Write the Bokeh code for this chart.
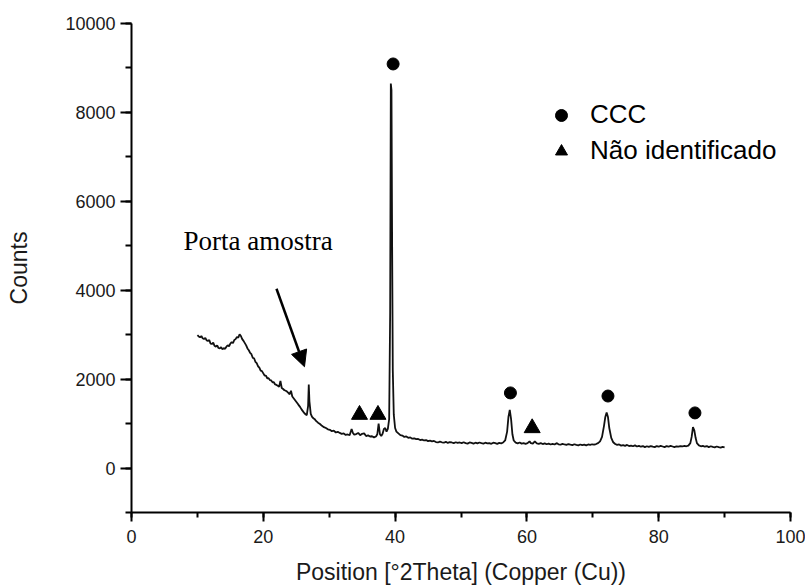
from bokeh.plotting import figure
from bokeh.models import (Range1d, SingleIntervalTicker, Legend, LegendItem,
                          Label, Arrow, NormalHead)
from bokeh.embed import file_html
from bokeh.resources import INLINE

# ---------------- data ----------------
two_theta = [
    10.0, 10.2, 10.4, 10.6, 10.8, 11.0, 11.2, 11.4, 11.6, 11.8,
    12.0, 12.2, 12.4, 12.6, 12.8, 13.0, 13.2, 13.4, 13.6, 13.8,
    14.0, 14.2, 14.4, 14.6, 14.8, 15.0, 15.2, 15.4, 15.6, 15.8,
    16.0, 16.2, 16.4, 16.6, 16.8, 17.0, 17.2, 17.4, 17.6, 17.8,
    18.0, 18.2, 18.4, 18.6, 18.8, 19.0, 19.2, 19.4, 19.6, 19.8,
    20.0, 20.2, 20.4, 20.6, 20.8, 21.0, 21.2, 21.4, 21.6, 21.8,
    22.0, 22.2, 22.4, 22.6, 22.8, 23.0, 23.2, 23.4, 23.6, 23.8,
    24.0, 24.2, 24.4, 24.6, 24.8, 25.0, 25.2, 25.4, 25.6, 25.8,
    26.0, 26.2, 26.4, 26.6, 26.8, 26.9, 27.0, 27.2, 27.4, 27.6,
    27.8, 28.0, 28.3, 28.6, 28.9, 29.2, 29.5, 29.8, 30.1, 30.4,
    30.7, 31.0, 31.3, 31.6, 31.9, 32.2, 32.5, 32.8, 33.1, 33.4,
    33.6, 33.8, 34.1, 34.4, 34.7, 35.0, 35.3, 35.6, 35.9, 36.2,
    36.5, 36.8, 37.1, 37.3, 37.5, 37.7, 37.9, 38.1, 38.3, 38.5,
    38.7, 38.9, 39.1, 39.25, 39.35, 39.45, 39.55, 39.65, 39.8, 40.0,
    40.2, 40.5, 40.8, 41.1, 41.4, 41.7, 42.0, 42.3, 42.6, 42.9,
    43.2, 43.5, 43.8, 44.1, 44.4, 44.7, 45.0, 45.3, 45.6, 45.9,
    46.2, 46.5, 46.8, 47.1, 47.4, 47.7, 48.0, 48.3, 48.6, 48.9,
    49.2, 49.5, 49.8, 50.1, 50.4, 50.7, 51.0, 51.3, 51.6, 51.9,
    52.2, 52.5, 52.8, 53.1, 53.4, 53.7, 54.0, 54.3, 54.6, 54.9,
    55.2, 55.5, 55.8, 56.1, 56.4, 56.7, 57.0, 57.2, 57.4, 57.6,
    57.8, 58.0, 58.3, 58.6, 58.9, 59.2, 59.5, 59.8, 60.1, 60.4,
    60.6, 60.9, 61.2, 61.5, 61.8, 62.1, 62.4, 62.7, 63.0, 63.3,
    63.6, 63.9, 64.2, 64.5, 64.8, 65.1, 65.4, 65.7, 66.0, 66.3,
    66.6, 66.9, 67.2, 67.5, 67.8, 68.1, 68.4, 68.7, 69.0, 69.3,
    69.6, 69.9, 70.2, 70.5, 70.8, 71.1, 71.4, 71.7, 71.9, 72.1,
    72.3, 72.5, 72.8, 73.1, 73.4, 73.7, 74.0, 74.3, 74.6, 74.9,
    75.2, 75.5, 75.8, 76.1, 76.4, 76.7, 77.0, 77.3, 77.6, 77.9,
    78.2, 78.5, 78.8, 79.1, 79.4, 79.7, 80.0, 80.3, 80.6, 80.9,
    81.2, 81.5, 81.8, 82.1, 82.4, 82.7, 83.0, 83.3, 83.6, 83.9,
    84.2, 84.5, 84.8, 85.0, 85.2, 85.4, 85.6, 85.8, 86.1, 86.4,
    86.7, 87.0, 87.3, 87.6, 87.9, 88.2, 88.5, 88.8, 89.1, 89.4,
    89.7, 90.0,
]
counts = [
    2990, 2960, 2940, 2970, 2920, 2900, 2930, 2870, 2860, 2880,
    2800, 2790, 2820, 2750, 2730, 2760, 2700, 2690, 2720, 2670,
    2700, 2680, 2730, 2760, 2740, 2800, 2830, 2810, 2880, 2900,
    2950, 2930, 3010, 2970, 2900, 2860, 2810, 2760, 2690, 2650,
    2590, 2560, 2480, 2470, 2390, 2360, 2290, 2260, 2190, 2180,
    2130, 2080, 2080, 2020, 2020, 1980, 1970, 1930, 1930, 1880,
    1870, 1850, 1830, 1960, 1800, 1780, 1750, 1740, 1720, 1690,
    1660, 1740, 1610, 1570, 1530, 1490, 1450, 1410, 1370, 1320,
    1280, 1240, 1210, 1190, 1400, 1880, 1500, 1220, 1150, 1120,
    1100, 1060, 1020, 990, 950, 920, 900, 870, 860, 830,
    840, 800, 815, 790, 770, 780, 745, 755, 740, 880,
    790, 750, 765, 790, 740, 770, 780, 720, 735, 710,
    715, 690, 710, 760, 1000, 760, 720, 770, 880, 900,
    820, 880, 1100, 3500, 8650, 8500, 5000, 2200, 1200, 900,
    820, 780, 740, 730, 700, 710, 680, 690, 660, 670,
    650, 655, 630, 640, 620, 630, 605, 615, 600, 610,
    585, 575, 595, 580, 570, 590, 565, 585, 575, 560,
    580, 565, 575, 560, 580, 560, 550, 575, 565, 550,
    570, 555, 575, 560, 550, 570, 555, 560, 545, 570,
    560, 545, 565, 555, 575, 620, 820, 1150, 1310, 1100,
    760, 620, 570, 555, 575, 550, 560, 545, 560, 600,
    560, 550, 600, 555, 545, 560, 540, 555, 535, 550,
    530, 545, 530, 560, 535, 525, 545, 530, 520, 540,
    525, 515, 535, 520, 510, 530, 515, 525, 510, 530,
    520, 535, 525, 540, 560, 600, 700, 950, 1150, 1250,
    1150, 900, 680, 580, 540, 520, 530, 505, 515, 500,
    520, 495, 505, 490, 510, 485, 500, 480, 495, 470,
    490, 475, 495, 480, 470, 495, 480, 500, 485, 470,
    495, 480, 500, 485, 470, 490, 480, 495, 485, 500,
    490, 505, 560, 700, 920, 850, 680, 560, 510, 490,
    500, 480, 495, 470, 490, 475, 465, 485, 470, 460,
    475, 465,
]
assert len(two_theta) == len(counts)

# peak identification markers
ccc_theta = [39.7, 57.5, 72.3, 85.5]
ccc_counts = [9090, 1690, 1620, 1240]
unid_theta = [34.6, 37.4, 60.8]
unid_counts = [1200, 1200, 900]

series_labels = ["CCC", "Não identificado"]
x_title = "Position [°2Theta] (Copper (Cu))"
y_title = "Counts"
note_text = "Porta amostra"

# ---------------- figure ----------------
p = figure(width=805, height=587, output_backend="svg", toolbar_location=None,
           x_range=Range1d(0, 100), y_range=Range1d(-1000, 10000),
           min_border_left=131, min_border_right=15, min_border_top=23,
           min_border_bottom=74)
p.outline_line_color = None
p.xgrid.visible = False
p.ygrid.visible = False
p.background_fill_color = "white"
p.border_fill_color = "white"

p.line(two_theta, counts, line_color="#111111", line_width=1.8)

r_ccc = p.scatter(ccc_theta, ccc_counts, marker="circle", size=12,
                  fill_color="black", line_color="black")
r_unid = p.scatter(unid_theta, unid_counts, marker="triangle", size=16,
                   fill_color="black", line_color="black")

# axes
font = "Liberation Sans"
p.xaxis.ticker = SingleIntervalTicker(interval=20, num_minor_ticks=2)
p.yaxis.ticker = SingleIntervalTicker(interval=2000, num_minor_ticks=2)
p.xaxis.axis_label = x_title
p.yaxis.axis_label = y_title
for ax in (p.xaxis, p.yaxis):
    ax.axis_line_width = 2
    ax.axis_line_color = "black"
    ax.major_tick_line_width = 2
    ax.minor_tick_line_width = 2
    ax.major_tick_line_color = "black"
    ax.minor_tick_line_color = "black"
    ax.major_tick_in = 0
    ax.minor_tick_in = 0
    ax.major_label_text_font = font
    ax.major_label_text_font_size = "18px"
    ax.major_label_text_color = "#1a1a1a"
    ax.axis_label_text_font = font
    ax.axis_label_text_font_size = "23px"
    ax.axis_label_text_font_style = "normal"
    ax.axis_label_text_color = "#1a1a1a"
p.xaxis.major_tick_out = 9
p.xaxis.minor_tick_out = 5
p.yaxis.major_tick_out = 11
p.yaxis.minor_tick_out = 6
p.xaxis.major_label_standoff = 8
p.yaxis.major_label_standoff = 5
p.xaxis.axis_label_standoff = 13
p.yaxis.axis_label_standoff = 30

# legend
legend = Legend(items=[LegendItem(label=series_labels[0], renderers=[r_ccc]),
                       LegendItem(label=series_labels[1], renderers=[r_unid])],
                location=(415, 346), border_line_color=None,
                background_fill_alpha=0, glyph_width=30, glyph_height=30,
                label_height=30, label_standoff=14, spacing=5, padding=0,
                margin=0, label_text_font=font, label_text_font_size="26px",
                label_text_color="black")
p.add_layout(legend)

# annotation
p.add_layout(Label(x=7.9, y=5110, text=note_text, text_font="Liberation Serif",
                   text_font_size="27px", text_baseline="alphabetic",
                   text_color="black"))
p.add_layout(Arrow(end=NormalHead(size=16, fill_color="black", line_color="black"),
                   x_start=22.0, y_start=4034, x_end=26.25, y_end=2279,
                   line_width=2.5, line_color="black"))

open("out.html", "w").write(file_html(p, INLINE))
